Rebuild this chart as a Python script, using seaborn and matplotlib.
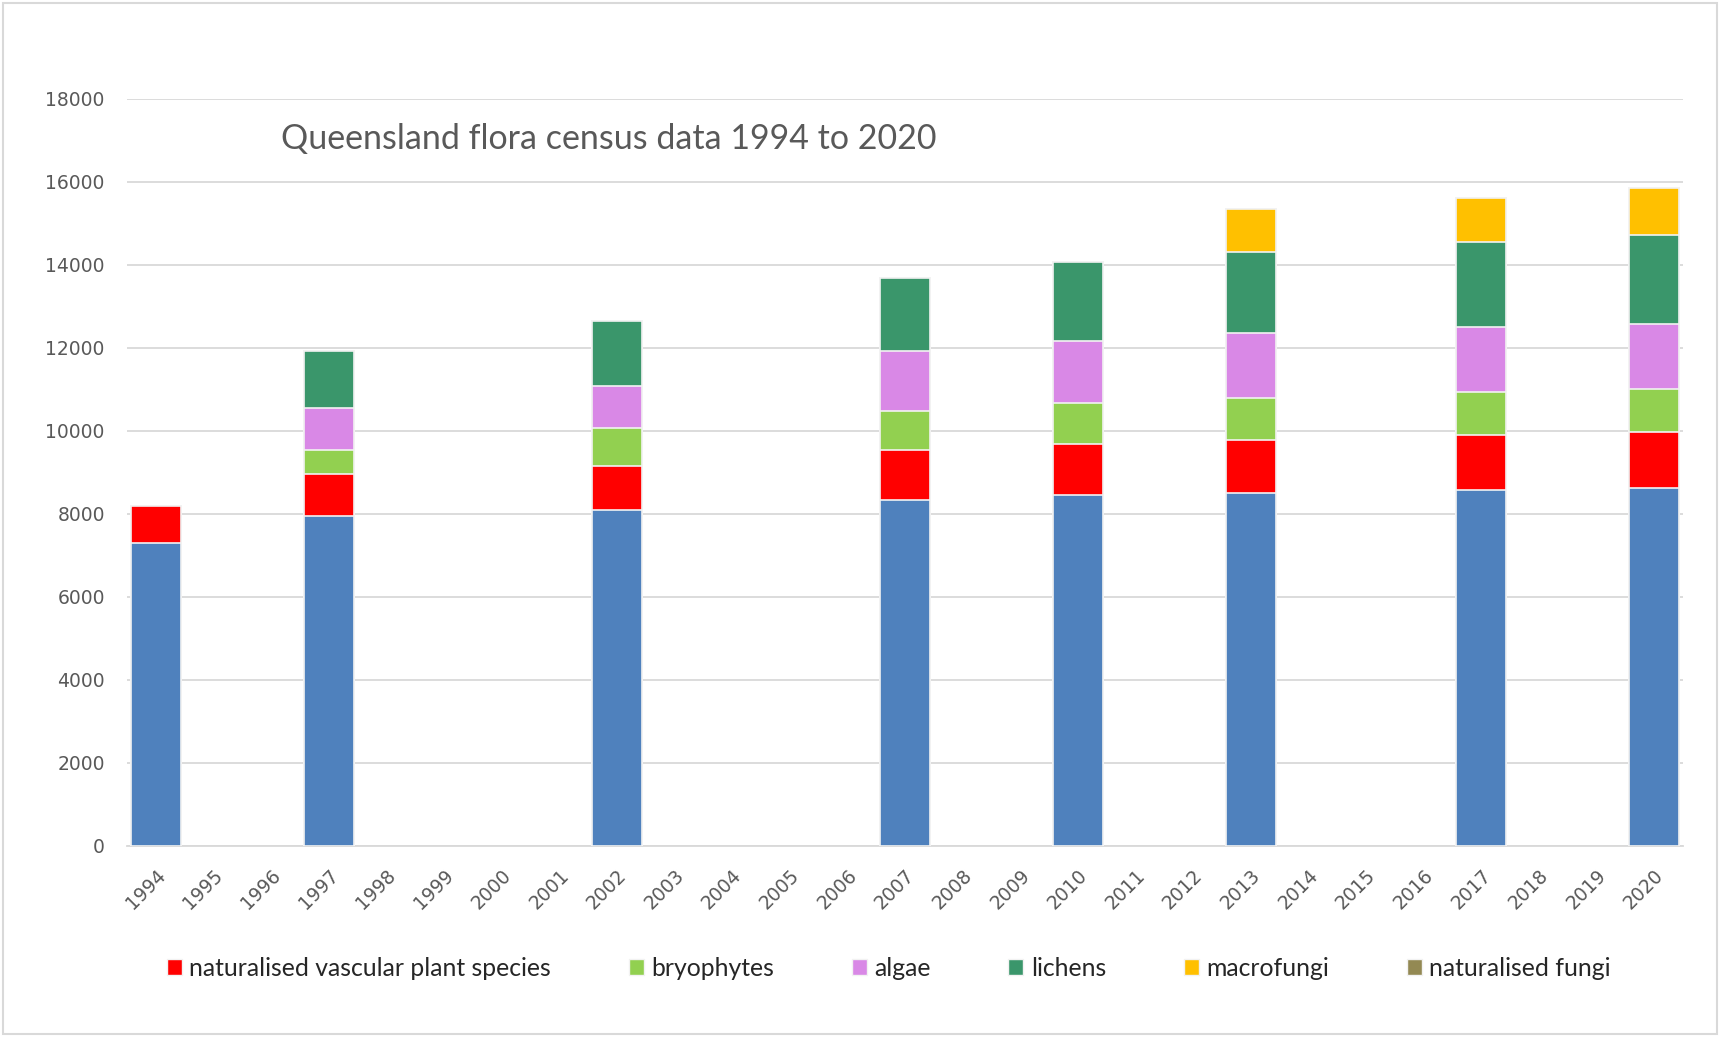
import matplotlib
matplotlib.use("Agg")
import matplotlib.pyplot as plt
import numpy as np
import pandas as pd
import seaborn as sns
from matplotlib.patches import Patch, Rectangle

# all x categories (one slot per year) and the years with census data
YEARS = [str(y) for y in range(1994, 2021)]
CENSUS_YEARS = ["1994", "1997", "2002", "2007", "2010", "2013", "2017", "2020"]

native_vascular = [7300, 7950, 8100, 8340, 8450, 8500, 8580, 8630]
naturalised_vascular = [900, 1000, 1060, 1190, 1240, 1290, 1320, 1350]
bryophytes = [0, 600, 900, 950, 980, 1000, 1030, 1030]
algae = [0, 1000, 1030, 1450, 1500, 1560, 1580, 1560]
lichens = [0, 1380, 1560, 1740, 1900, 1950, 2030, 2140]
macrofungi = [0, 0, 0, 0, 0, 1055, 1080, 1135]
naturalised_fungi = [0, 0, 0, 0, 0, 0, 0, 0]

SERIES = [
    ("native vascular plant species", native_vascular, "#4F81BD", False),
    ("naturalised vascular plant species", naturalised_vascular, "#FF0000", True),
    ("bryophytes", bryophytes, "#92D050", True),
    ("algae", algae, "#D988E6", True),
    ("lichens", lichens, "#3A966B", True),
    ("macrofungi", macrofungi, "#FFC000", True),
    ("naturalised fungi", naturalised_fungi, "#938953", True),
]

TITLE = "Queensland flora census data 1994 to 2020"


def main() -> None:
    sns.set_style("white")
    plt.rcParams["font.family"] = ["DejaVu Sans"]

    df = pd.DataFrame({name: vals for name, vals, _, _ in SERIES})
    df.insert(0, "year", CENSUS_YEARS)
    names = [s[0] for s in SERIES]
    cum = df[names].cumsum(axis=1)

    fig = plt.figure(figsize=(17.19, 10.37), dpi=100)
    ax = fig.add_axes([0.0739, 0.1842, 0.9051, 0.7206])

    # stacked bars: draw the cumulative totals from the top layer down
    for name, _, color, _ in reversed(SERIES):
        sns.barplot(
            x=df["year"],
            y=cum[name],
            order=YEARS,
            color=color,
            saturation=1,
            width=0.875,
            edgecolor="#f2f2f2",
            linewidth=1.2,
            errorbar=None,
            ax=ax,
            zorder=3,
        )

    ax.set_ylim(0, 18000)
    ax.set_xlim(-0.5, len(YEARS) - 0.5)
    ax.set_yticks(np.arange(0, 18001, 2000))
    ax.yaxis.grid(True, color="#d9d9d9", linewidth=1.3, zorder=0)
    ax.set_axisbelow(True)
    for side in ["left", "right", "top"]:
        ax.spines[side].set_visible(False)
    ax.spines["bottom"].set_color("#d9d9d9")
    ax.spines["bottom"].set_linewidth(1.3)
    ax.set_xlabel("")
    ax.set_ylabel("")

    ax.set_xticks(range(len(YEARS)))
    ax.set_xticklabels(YEARS)
    ax.set_xticks(np.arange(-0.5, len(YEARS), 1), minor=True)
    ax.tick_params(axis="x", which="major", length=0, pad=14, labelsize=13.5,
                   labelcolor="#595959")
    ax.tick_params(axis="x", which="minor", length=8, width=1.3, color="#d9d9d9")
    ax.tick_params(axis="y", length=0, pad=16, labelsize=13.5, labelcolor="#595959")
    for label in ax.get_xticklabels():
        label.set_rotation(45)
        label.set_ha("right")
        label.set_va("top")
        label.set_rotation_mode("anchor")

    fig.text(0.1635, 0.866, TITLE, ha="left", va="center", fontsize=24.5,
             color="#595959", family=["Lato", "DejaVu Sans"])

    handles = [Patch(facecolor=color, edgecolor="#f2f2f2", label=name)
               for name, _, color, shown in SERIES if shown]
    fig.legend(
        handles=handles,
        loc="center",
        bbox_to_anchor=(0.517, 0.066),
        ncol=len(handles),
        frameon=False,
        prop={"family": ["Lato", "DejaVu Sans"], "size": 17.8},
        labelcolor="#262626",
        handlelength=0.6,
        handleheight=0.6,
        handletextpad=0.3,
        columnspacing=3.15,
    )

    fig.add_artist(Rectangle((0.0015, 0.003), 0.9975, 0.994, transform=fig.transFigure,
                             fill=False, edgecolor="#d9d9d9", linewidth=1.5))

    fig.savefig("out.png", dpi=100)
    plt.close(fig)


if __name__ == "__main__":
    main()
